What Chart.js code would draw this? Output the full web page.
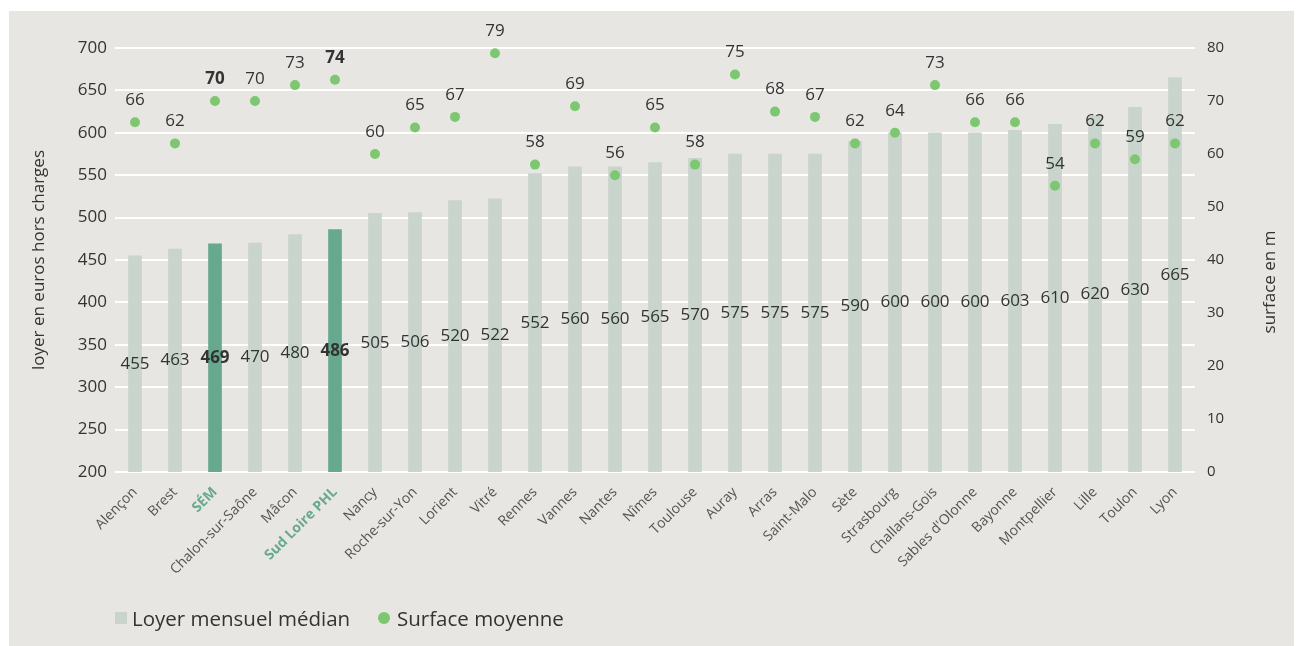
<!DOCTYPE html>
<html>
<head>
<meta charset="utf-8">
<script src="https://cdn.jsdelivr.net/npm/chart.js@4.4.1/dist/chart.umd.min.js"></script>
<style>
  html, body { margin: 0; padding: 0; background: #ffffff; }
  #panel { position: absolute; left: 9px; top: 11px; width: 1285px; height: 635px; background: #e7e6e2; }
  #c { position: absolute; left: 0; top: 0; }
  .lg { position: absolute; font-family: "Open Sans", sans-serif; font-size: 20.5px; color: #333; line-height: 24px; white-space: nowrap; }
  .sw { position: absolute; }
</style>
</head>
<body>
<div id="panel">
  <canvas id="c" width="1285" height="635"></canvas>
  <div class="sw" style="left:106px;top:601px;width:12px;height:12px;background:#c8d4cc;"></div>
  <div class="lg" style="left:123px;top:595px;">Loyer mensuel médian</div>
  <div class="sw" style="left:369px;top:601px;width:12px;height:12px;border-radius:50%;background:#7dc771;"></div>
  <div class="lg" style="left:388px;top:595px;">Surface moyenne</div>
</div>
<script>
const categories = ["Alençon","Brest","SÉM","Chalon-sur-Saône","Mâcon","Sud Loire PHL","Nancy","Roche-sur-Yon","Lorient","Vitré","Rennes","Vannes","Nantes","Nîmes","Toulouse","Auray","Arras","Saint-Malo","Sète","Strasbourg","Challans-Gois","Sables d'Olonne","Bayonne","Montpellier","Lille","Toulon","Lyon"];
const loyer = [455,463,469,470,480,486,505,506,520,522,552,560,560,565,570,575,575,575,590,600,600,600,603,610,620,630,665];
const surface = [66,62,70,70,73,74,60,65,67,79,58,69,56,65,58,75,68,67,62,64,73,66,66,54,62,59,62];
const highlighted = ["SÉM","Sud Loire PHL"];
const leftTicks = [200,250,300,350,400,450,500,550,600,650,700];
const rightTicks = [0,10,20,30,40,50,60,70,80];
const rightTitle = 'surface en m';

const FONT = '"Open Sans", sans-serif';
const isHi = i => highlighted.includes(categories[i]);

const labelPlugin = {
  id: 'valueLabels',
  afterDatasetsDraw(chart) {
    const ctx = chart.ctx;
    const bottom = chart.chartArea.bottom;
    ctx.save();
    ctx.textAlign = 'center';
    ctx.textBaseline = 'middle';
    ctx.fillStyle = '#333333';
    const barMeta = chart.getDatasetMeta(1);
    barMeta.data.forEach((el, i) => {
      const {x, y, base} = el.getProps(['x','y','base'], true);
      const b = Math.min(base, bottom);
      ctx.font = (isHi(i) ? 'bold ' : '') + '17px ' + FONT;
      ctx.fillText(String(loyer[i]), x, (y + b) / 2);
    });
    const ptMeta = chart.getDatasetMeta(0);
    ptMeta.data.forEach((el, i) => {
      const {x, y} = el.getProps(['x','y'], true);
      ctx.font = (isHi(i) ? 'bold ' : '') + '17px ' + FONT;
      ctx.fillText(String(surface[i]), x, y - 22);
    });
    // right axis title, reading bottom-to-top
    const ys = chart.scales.y1;
    ctx.translate(1261, (ys.top + ys.bottom) / 2 + 22);
    ctx.rotate(-Math.PI / 2);
    ctx.font = '17px ' + FONT;
    ctx.fillText(rightTitle, 0, 0);
    ctx.restore();
  }
};

new Chart(document.getElementById('c'), {
  type: 'bar',
  data: {
    labels: categories,
    datasets: [
      {
        type: 'line',
        label: 'Surface moyenne',
        data: surface,
        yAxisID: 'y1',
        showLine: false,
        pointRadius: 5,
        pointHoverRadius: 5,
        pointBackgroundColor: '#7dc771',
        pointBorderColor: '#7dc771',
        pointBorderWidth: 0,
        backgroundColor: '#7dc771',
        order: 1
      },
      {
        type: 'bar',
        label: 'Loyer mensuel médian',
        data: loyer,
        yAxisID: 'y',
        backgroundColor: ctx => isHi(ctx.dataIndex) ? '#66a98e' : '#c8d4cc',
        barThickness: 13,
        borderWidth: 0,
        order: 2
      }
    ]
  },
  options: {
    responsive: false,
    animation: false,
    layout: { padding: { top: 37, left: 0, right: 0, bottom: 0 } },
    plugins: { legend: { display: false }, tooltip: { enabled: false } },
    scales: {
      x: {
        grid: { display: false },
        border: { display: false },
        ticks: {
          autoSkip: false,
          maxRotation: 45,
          minRotation: 45,
          padding: 4,
          color: c => isHi(c.index) ? '#66a98e' : '#555555',
          font: c => ({ family: FONT, size: 14, weight: isHi(c.index) ? 'bold' : 'normal' })
        },
        afterFit: s => { s.height = 174; }
      },
      y: {
        position: 'left',
        min: 200,
        max: 700,
        afterBuildTicks: s => { s.ticks = leftTicks.map(v => ({ value: v })); },
        grid: { color: '#ffffff', lineWidth: 2, drawTicks: false },
        border: { display: false },
        ticks: { color: '#333333', padding: 8, font: { family: FONT, size: 17 } },
        title: { display: true, text: 'loyer en euros hors charges', color: '#333333', font: { family: FONT, size: 17 }, padding: { top: 20, bottom: 0 } },
        afterFit: s => { s.width = 106; }
      },
      y1: {
        position: 'right',
        min: 0,
        max: 80,
        afterBuildTicks: s => { s.ticks = rightTicks.map(v => ({ value: v })); },
        grid: { display: false, drawTicks: false },
        border: { display: false },
        ticks: { color: '#333333', padding: 12, font: { family: FONT, size: 15 } },
        afterFit: s => { s.width = 99; }
      }
    }
  },
  plugins: [labelPlugin]
});
</script>
</body>
</html>
